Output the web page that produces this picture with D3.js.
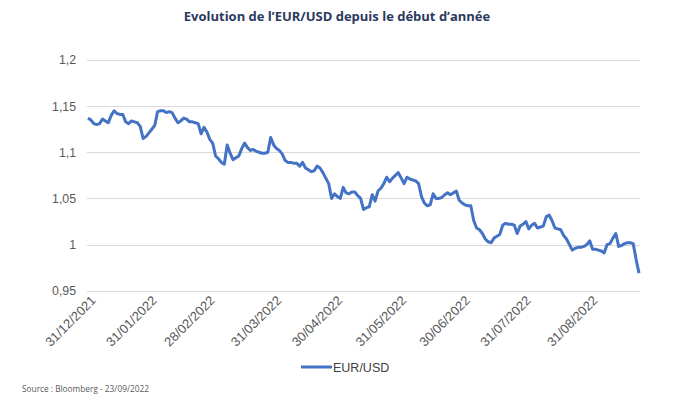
<!DOCTYPE html>
<html><head><meta charset="utf-8">
<script src="https://cdn.jsdelivr.net/npm/d3@7"></script>
<style>body{margin:0;background:#fff}svg{display:block}</style>
</head><body><div id="chart"></div>
<script>
const title = "Evolution de l’EUR/USD depuis le début d’année";
const seriesName = "EUR/USD";
const source = "Source : Bloomberg - 23/09/2022";
const yTicks = [0.95, 1, 1.05, 1.1, 1.15, 1.2];
const tickLabels = ["31/12/2021","31/01/2022","28/02/2022","31/03/2022","30/04/2022","31/05/2022","30/06/2022","31/07/2022","31/08/2022"];
const tickIndex = [0,21,41,64,85,107,129,150,173];
const eurusd = [
1.137,1.135,1.131,1.130,1.131,1.136,1.134,1.132,1.140,1.145,
1.142,1.141,1.141,1.133,1.131,1.134,1.133,1.132,1.128,1.115,
1.117,1.121,1.125,1.129,1.144,1.145,1.145,1.143,1.144,1.143,
1.137,1.132,1.134,1.137,1.136,1.133,1.133,1.132,1.131,1.120,
1.127,1.122,1.114,1.110,1.096,1.093,1.089,1.087,1.108,1.099,
1.092,1.094,1.096,1.104,1.110,1.105,1.102,1.103,1.101,1.100,
1.099,1.099,1.100,1.116,1.108,1.104,1.102,1.098,1.091,1.089,
1.089,1.088,1.088,1.085,1.089,1.083,1.081,1.079,1.080,1.085,
1.083,1.078,1.072,1.066,1.050,1.055,1.052,1.050,1.062,1.056,
1.055,1.057,1.057,1.053,1.050,1.038,1.040,1.041,1.054,1.047,
1.058,1.061,1.066,1.073,1.068,1.072,1.075,1.078,1.072,1.066,
1.073,1.071,1.070,1.069,1.066,1.052,1.045,1.042,1.043,1.055,
1.050,1.050,1.051,1.054,1.056,1.054,1.056,1.058,1.048,1.045,
1.043,1.042,1.042,1.026,1.018,1.016,1.012,1.006,1.003,1.002,
1.007,1.009,1.011,1.021,1.023,1.022,1.022,1.021,1.012,1.020,
1.022,1.025,1.017,1.021,1.023,1.018,1.019,1.020,1.030,1.032,
1.026,1.018,1.017,1.016,1.010,1.006,1.000,0.994,0.996,0.997,
0.997,0.998,1.000,1.004,0.995,0.995,0.994,0.993,0.991,1.000,
1.001,1.007,1.012,0.998,0.999,1.001,1.002,1.002,1.001,0.984,
0.969
];

const W = 679, H = 408;
const svg = d3.select("#chart").append("svg").attr("width", W).attr("height", H);
const fmt = v => String(v).replace(".", ",");
const sans = "'Liberation Sans', Arial, sans-serif";

const x = d3.scaleLinear().domain([0, eurusd.length - 1]).range([88, 639]);
const y = d3.scaleLinear().domain([0.95, 1.2]).range([290.7, 60]);

svg.append("text").attr("x", 337).attr("y", 21).attr("text-anchor", "middle")
  .attr("font-family", "'Open Sans', sans-serif").attr("font-weight", "bold")
  .attr("font-size", 13).attr("fill", "#2b3a5e").text(title);

// grid
svg.append("g").selectAll("line").data(yTicks).join("line")
  .attr("x1", 87).attr("x2", 640)
  .attr("y1", d => Math.round(y(d)) + 0.5).attr("y2", d => Math.round(y(d)) + 0.5)
  .attr("stroke", "#d9d9d9").attr("stroke-width", 1);

// y axis labels
const yAxis = d3.axisLeft(y).tickValues(yTicks).tickFormat(fmt).tickSize(0).tickPadding(0);
const gy = svg.append("g").attr("transform", "translate(76,0)").call(yAxis);
gy.select(".domain").remove();
gy.selectAll("text").attr("font-family", sans)
  .attr("font-size", 12.3).attr("fill", "#595959");

// x axis labels
const xAxis = d3.axisBottom(x).tickValues(tickIndex).tickFormat((d, i) => tickLabels[i]).tickSize(0).tickPadding(0);
const gx = svg.append("g").attr("transform", "translate(5,298)").call(xAxis);
gx.select(".domain").remove();
gx.selectAll("text").attr("font-family", sans)
  .attr("font-size", 13).attr("fill", "#595959")
  .attr("text-anchor", "end").attr("dy", "0.35em").attr("dx", 0)
  .attr("transform", "rotate(-45)");

// line
const line = d3.line().x((d, i) => x(i)).y(d => y(d));
svg.append("path").datum(eurusd).attr("d", line).attr("fill", "none")
  .attr("stroke", "#4472c4").attr("stroke-width", 3).attr("stroke-linejoin", "round");

// legend
svg.append("line").attr("x1", 301).attr("x2", 332).attr("y1", 367).attr("y2", 367)
  .attr("stroke", "#4472c4").attr("stroke-width", 3);
svg.append("text").attr("x", 333).attr("y", 371.5).attr("font-family", sans)
  .attr("font-size", 12.5).attr("fill", "#404040").text(seriesName);

// source
svg.append("text").attr("x", 22).attr("y", 392).attr("font-family", "'Open Sans', sans-serif")
  .attr("font-size", 8.3).attr("fill", "#595959").text(source);
</script></body></html>
